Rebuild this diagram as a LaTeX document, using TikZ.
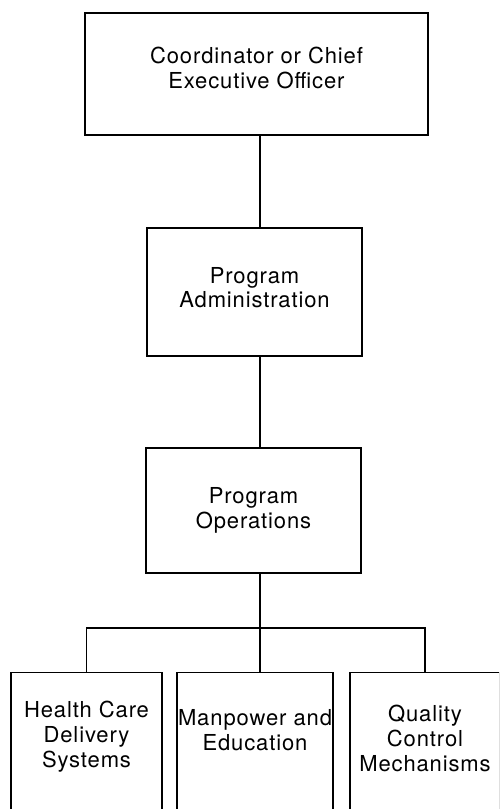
\documentclass[tikz,border=0pt]{standalone}
\usepackage{fontspec}
\newfontfamily\chartfont[LetterSpace=4]{TeX Gyre Heros}
\usetikzlibrary{calc}
\tikzset{%
    office/.style={draw, line width=1.4pt, align=center, inner sep=0pt,
        font=\chartfont\fontsize{22}{24.5}\selectfont},
    unit/.style={draw, line width=1.4pt, minimum height=180pt, anchor=north, inner sep=0pt},
    unitname/.style={align=center, inner sep=0pt,
        font=\chartfont\fontsize{22}{25}\selectfont}
}

\begin{document}
\begin{tikzpicture}[x=1pt,y=-1pt,line width=1.4pt]
    \useasboundingbox (0,0) rectangle (499,809);
    \clip (0,0) rectangle (499,809);
    \node[office, minimum width=343pt, minimum height=122pt, text depth=12pt] (ceo) at (256.5,74) {Coordinator or Chief\\Executive Officer};
    \node[office, minimum width=215pt, minimum height=128pt, text depth=9pt] (adm) at (254.5,292) {Program\\Administration};
    \node[office, minimum width=215pt, minimum height=125pt] (ops) at (253.5,510.5) {Program\\Operations};
    \coordinate (spine) at (260,0);
    \coordinate (bar) at (0,628);
    % the three units run off the bottom of the page
    \node[unit, minimum width=151pt] (hcdbox) at (86.5,672) {};
    \node[unit, minimum width=156pt] (mpebox) at (255,672) {};
    \node[unit, minimum width=150pt] (qcmbox) at (425,672) {};
    \node[unitname] (hcd) at ($(hcdbox.north)+(0,65)$) {Health Care\\Delivery\\Systems};
    \node[unitname] (mpe) at ($(mpebox.north)+(0,58)$) {Manpower and\\Education};
    \node[unitname] (qcm) at ($(qcmbox.north)+(0,66)$) {Quality\\Control\\Mechanisms};
    \draw (ceo.south -| spine) -- (adm.north -| spine);
    \draw (adm.south -| spine) -- (ops.north -| spine);
    \draw (ops.south -| spine) -- (bar -| spine);
    \draw (hcdbox.north) -- (hcdbox.north |- bar) -- (qcmbox.north |- bar) -- (qcmbox.north);
    \draw (bar -| spine) -- (mpebox.north -| spine);
\end{tikzpicture}
\end{document}
